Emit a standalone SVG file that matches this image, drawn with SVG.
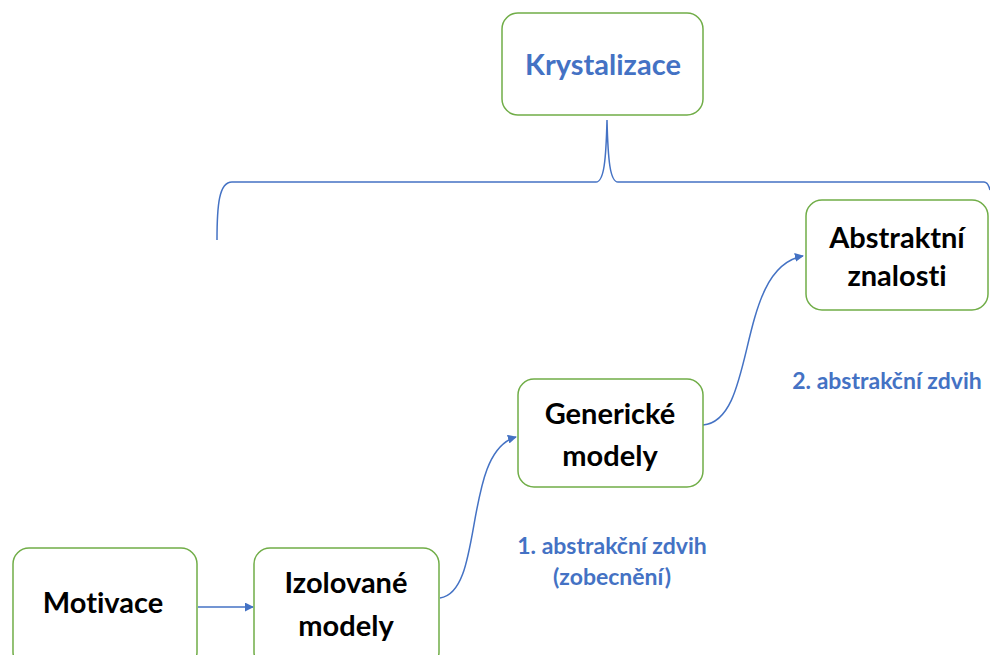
<svg xmlns="http://www.w3.org/2000/svg" width="990" height="655" viewBox="0 0 990 655">
<defs>
<style>
.box{fill:#fff;stroke:#70AD47;stroke-width:1.5}
.t{font-family:Lato,"Open Sans","Liberation Sans",sans-serif;font-weight:bold;font-size:29px;fill:#000;text-anchor:middle;font-variant-ligatures:none}
.tb{fill:#4472C4}
.lbl{font-family:Lato,"Open Sans","Liberation Sans",sans-serif;font-weight:bold;font-size:23px;fill:#4472C4;text-anchor:middle;font-variant-ligatures:none}
.c{fill:none;stroke:#4472C4;stroke-width:1.5}
</style>
<marker id="ah" viewBox="0 0 10 10" refX="9" refY="5" markerWidth="9" markerHeight="9" markerUnits="userSpaceOnUse" orient="auto">
<path d="M0,0 L10,5 L0,10 z" fill="#4472C4"/>
</marker>
</defs>
<rect width="990" height="655" fill="#fff"/>
<g id="connectors">
<path class="c" d="M217,240 C217,205 219,182 232,182 L596,182 C604,182 606,160 607,120 C608,160 610,182 618,182 L984,182 C987,182 989,186 990,190"/>
<line class="c" x1="198" y1="607" x2="253" y2="607" marker-end="url(#ah)"/>
<path class="c" d="M440,598 C485,592 462,452 516,437" marker-end="url(#ah)"/>
<path class="c" d="M703,425 C758,420 735,268 803,256" marker-end="url(#ah)"/>
</g>
<g id="krystalizace">
<rect class="box" x="502" y="13" width="201" height="102" rx="16"/>
<text class="t tb" x="603" y="75">Krystalizace</text>
</g>
<g id="abstraktni">
<rect class="box" x="806" y="200" width="182" height="110" rx="16"/>
<text class="t" x="897" y="248">Abstraktní</text>
<text class="t" x="897" y="286">znalosti</text>
</g>
<g id="genericke">
<rect class="box" x="518" y="379" width="185" height="108" rx="16"/>
<text class="t" x="610" y="424">Generické</text>
<text class="t" x="610" y="466">modely</text>
</g>
<g id="izolovane">
<rect class="box" x="254" y="548" width="185" height="120" rx="16"/>
<text class="t" x="346" y="593">Izolované</text>
<text class="t" x="346" y="636">modely</text>
</g>
<g id="motivace">
<rect class="box" x="13" y="548" width="184" height="120" rx="16"/>
<text class="t" x="103" y="613">Motivace</text>
</g>
<g id="labels">
<text class="lbl" x="612" y="554">1. abstrakční zdvih</text>
<text class="lbl" x="612" y="585">(zobecnění)</text>
<text class="lbl" x="887" y="389">2. abstrakční zdvih</text>
</g>
</svg>
